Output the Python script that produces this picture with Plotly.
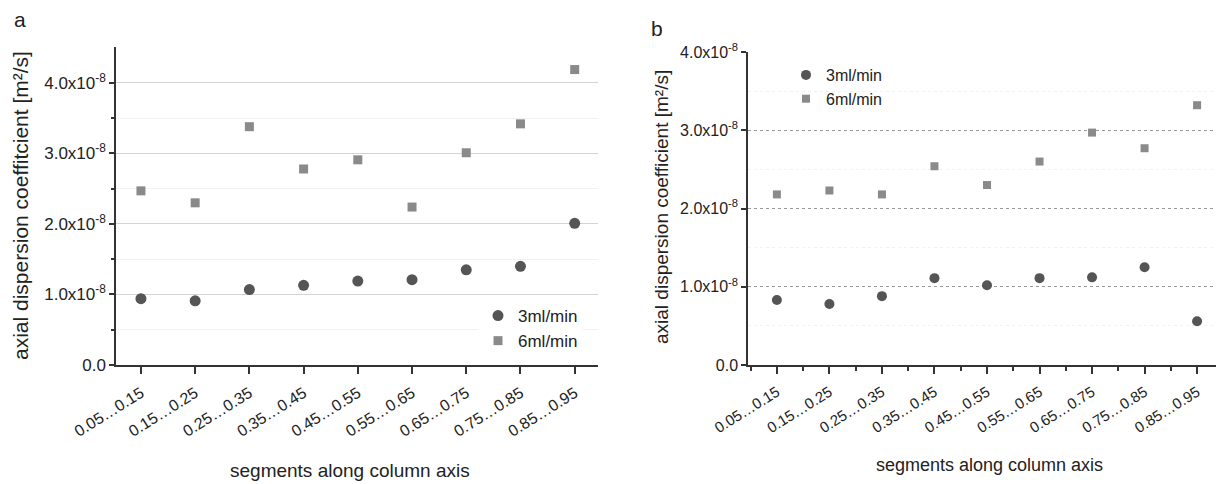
import plotly.graph_objects as go

# Segment labels along the column axis
segments = ["0.05…0.15", "0.15…0.25", "0.25…0.35", "0.35…0.45", "0.45…0.55",
            "0.55…0.65", "0.65…0.75", "0.75…0.85", "0.85…0.95"]

# Axial dispersion coefficients, in units of 1e-8 m²/s
a_3ml = [0.94, 0.91, 1.07, 1.13, 1.19, 1.21, 1.35, 1.40, 2.01]
a_6ml = [2.47, 2.30, 3.38, 2.78, 2.91, 2.24, 3.01, 3.42, 4.19]
b_3ml = [0.83, 0.78, 0.88, 1.11, 1.02, 1.11, 1.12, 1.25, 0.56]
b_6ml = [2.18, 2.23, 2.18, 2.54, 2.30, 2.60, 2.97, 2.77, 3.32]

y_ticks = [0, 1, 2, 3, 4]
y_ticktext = ["0.0", "1.0x10<sup>-8</sup>", "2.0x10<sup>-8</sup>",
              "3.0x10<sup>-8</sup>", "4.0x10<sup>-8</sup>"]

SCALE = 1e-8
W, H = 1216, 484
FONT = "Liberation Sans, Arial, sans-serif"
TEXT = "#222222"
AXIS_COLOR = "#333333"
CIRCLE_COLOR = "#555555"
SQUARE_COLOR = "#8a8a8a"

x_idx = list(range(len(segments)))


def px_x(p):
    return p / W


def px_y(p):
    return 1 - p / H


fig = go.Figure()

panels = [
    ("x", "y", "legend", a_3ml, a_6ml, 11, 9),
    ("x2", "y2", "legend2", b_3ml, b_6ml, 10, 8),
]
for xa, ya, lg, s3, s6, cs, ss in panels:
    fig.add_trace(go.Scatter(
        x=x_idx, y=[v * SCALE for v in s3], mode="markers", name="3ml/min",
        xaxis=xa, yaxis=ya, legend=lg,
        marker=dict(symbol="circle", size=cs, color=CIRCLE_COLOR)))
    fig.add_trace(go.Scatter(
        x=x_idx, y=[v * SCALE for v in s6], mode="markers", name="6ml/min",
        xaxis=xa, yaxis=ya, legend=lg,
        marker=dict(symbol="square", size=ss, color=SQUARE_COLOR)))


def x_axis(size):
    return dict(
        tickmode="array", tickvals=x_idx, ticktext=segments, tickangle=-32,
        ticks="outside", ticklen=7, tickwidth=1.5, tickcolor=AXIS_COLOR,
        ticklabelstandoff=4,
        showline=True, linecolor=AXIS_COLOR, linewidth=1.5,
        showgrid=False, zeroline=False, automargin=False,
        tickfont=dict(family=FONT, size=size, color=TEXT),
    )


def y_axis(size):
    return dict(
        tickmode="array", tickvals=[t * SCALE for t in y_ticks],
        ticktext=y_ticktext,
        ticks="outside", ticklen=5, tickwidth=1.5, tickcolor=AXIS_COLOR,
        showline=True, linecolor=AXIS_COLOR, linewidth=1.5,
        zeroline=False, showgrid=True, automargin=False,
        tickfont=dict(family=FONT, size=size, color=TEXT),
    )


minor_y_vals = [v * SCALE for v in [0.5, 1.5, 2.5, 3.5]]

fig.update_layout(
    width=W, height=H,
    margin=dict(l=0, r=0, t=0, b=0, autoexpand=False),
    paper_bgcolor="white", plot_bgcolor="white",
    font=dict(family=FONT, color=TEXT),
    xaxis=dict(x_axis(16), domain=[px_x(116), px_x(598)], range=[-0.46, 8.43],
               anchor="y"),
    yaxis=dict(y_axis(17), domain=[px_y(365), px_y(47)],
               range=[0, 4.51 * SCALE], anchor="x",
               gridcolor="#d4d4d4", gridwidth=1,
               minor=dict(tickvals=minor_y_vals, ticks="outside", ticklen=3,
                          tickcolor=AXIS_COLOR, showgrid=True,
                          gridcolor="#f1f1f1", gridwidth=1)),
    xaxis2=dict(x_axis(15), domain=[px_x(748), 1.0], range=[-0.55, 8.36],
                anchor="y2",
                minor=dict(tickvals=[i + 0.5 for i in range(-1, 9)],
                           ticks="outside", ticklen=4, tickcolor=AXIS_COLOR)),
    yaxis2=dict(y_axis(16), domain=[px_y(365), px_y(52)],
                range=[0, 4.0 * SCALE], anchor="x2",
                gridcolor="#9a9a9a", gridwidth=1, griddash="dot",
                minor=dict(tickvals=minor_y_vals, ticks="", showgrid=True,
                           gridcolor="#f1f1f1", gridwidth=1)),
    legend=dict(x=px_x(478), y=px_y(298), xanchor="left", yanchor="top",
                bgcolor="white", font=dict(family=FONT, size=17),
                itemwidth=30, tracegroupgap=0),
    legend2=dict(x=px_x(786), y=px_y(58), xanchor="left", yanchor="top",
                 bgcolor="rgba(255,255,255,0)", font=dict(family=FONT, size=16),
                 itemwidth=30, tracegroupgap=0),
    showlegend=True,
)

annotations = [
    dict(text="a", x=px_x(12), y=px_y(6), xanchor="left", yanchor="top",
         font=dict(family=FONT, size=21, color=TEXT)),
    dict(text="b", x=px_x(649), y=px_y(15), xanchor="left", yanchor="top",
         font=dict(family=FONT, size=21, color=TEXT)),
    dict(text="axial dispersion coeffitcient [m²/s]", textangle=-90,
         x=px_x(20), y=px_y(206), xanchor="center", yanchor="middle",
         font=dict(family=FONT, size=21, color=TEXT)),
    dict(text="axial dispersion coefficient [m²/s]", textangle=-90,
         x=px_x(662), y=px_y(207), xanchor="center", yanchor="middle",
         font=dict(family=FONT, size=19, color=TEXT)),
    dict(text="segments along column axis", x=px_x(350), y=px_y(470),
         xanchor="center", yanchor="middle",
         font=dict(family=FONT, size=19, color=TEXT)),
    dict(text="segments along column axis", x=px_x(989), y=px_y(465),
         xanchor="center", yanchor="middle",
         font=dict(family=FONT, size=18, color=TEXT)),
]
for a in annotations:
    a.update(xref="paper", yref="paper", showarrow=False)
fig.update_layout(annotations=annotations)

fig.write_html("out.html")
